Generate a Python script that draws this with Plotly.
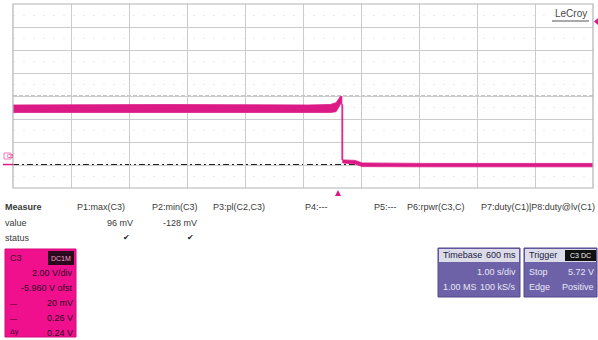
import plotly.graph_objects as go

# ---- acquisition settings (C3, 2.00 V/div, offset -5.960 V, 1.00 s/div) ----
volts_per_div = 2.0
offset_v = 5.96          # screen centre sits at +5.96 V
sec_per_div = 1.0
t_start = -5.6           # trigger (t = 0) is 5.6 divisions from the left edge
n_xdiv, n_ydiv = 10, 8

# ---- C3 trace envelope (noisy band), time in s, voltage in V ----
upper_t = [-5.6, -3.0, -0.5, -0.13, -0.03, 0.02, 0.05, 0.07, 0.07, 0.11, 0.30, 0.42, 1.5, 4.4]
upper_v = [5.18, 5.22, 5.18, 5.22, 5.38, 5.75, 5.96, 5.90, 0.42, 0.40, 0.36, 0.14, 0.10, 0.10]
lower_t = [4.4, 1.5, 0.42, 0.30, 0.11, 0.085, 0.085, 0.05, 0.02, -0.03, -0.13, -0.5, -3.0, -5.6]
lower_v = [-0.2, -0.2, -0.18, 0.04, 0.10, 0.14, 5.20, 5.30, 5.00, 4.60, 4.52, 4.52, 4.54, 4.52]

# ---- measurement table ----
meas_names = ["P1:max(C3)", "P2:min(C3)", "P3:pl(C2,C3)", "P4:---", "P5:---",
              "P6:rpwr(C3,C)", "P7:duty(C1)", "|P8:duty@lv(C1)"]
meas_values = ["96 mV", "-128 mV", "", "", "", "", "", ""]
meas_status = ["\u2714", "\u2714", "", "", "", "", "", ""]

# ---- channel / timebase / trigger descriptors ----
chan_rows = ["2.00 V/div", "-5.960 V ofst", "20 mV", "0.26 V", "0.24 V"]
timebase_rows = [("", "1.00 s/div"), ("1.00 MS", "100 kS/s")]
trigger_rows = [("Stop", "5.72 V"), ("Edge", "Positive")]

W, H = 598, 340
TRACE = "#dc1a86"
CHAN_BG = "#f0108e"
PURPLE = "#6d62a8"
FONT = "Liberation Sans, Arial, sans-serif"

# plot frame in pixels
X0, X1, Y0, Y1 = 13, 593, 4, 188


def px(x):
    return x / W


def py(y):
    return 1 - y / H


fig = go.Figure()

fig.add_trace(go.Scatter(
    x=upper_t + lower_t + [upper_t[0]],
    y=upper_v + lower_v + [upper_v[0]],
    mode="lines", fill="toself", fillcolor=TRACE,
    line=dict(color=TRACE, width=0.8), hoverinfo="skip", showlegend=False,
))

y_lo = offset_v - volts_per_div * n_ydiv / 2
y_hi = offset_v + volts_per_div * n_ydiv / 2

fig.update_layout(
    width=W, height=H, margin=dict(l=0, r=0, t=0, b=0),
    paper_bgcolor="white", plot_bgcolor="white",
    font=dict(family=FONT, size=9, color="#3a3a3a"),
    xaxis=dict(domain=[px(X0), px(X1)], range=[t_start, t_start + n_xdiv * sec_per_div],
               tick0=t_start, dtick=sec_per_div, showgrid=True, gridcolor="#cccccc",
               gridwidth=1, zeroline=False, showticklabels=False, ticks="",
               fixedrange=True),
    yaxis=dict(domain=[py(Y1), py(Y0)], range=[y_lo, y_hi],
               tick0=y_lo, dtick=volts_per_div, showgrid=True, gridcolor="#cccccc",
               gridwidth=1, zeroline=False, showticklabels=False, ticks="",
               fixedrange=True),
)

shapes = []
# centre axis (dashed) and ground reference (dash-dot)
shapes.append(dict(type="line", xref="paper", yref="y", x0=px(X0), x1=px(X1),
                   y0=offset_v, y1=offset_v, line=dict(color="#8c8c8c", width=1, dash="4px,2px"),
                   layer="below"))
shapes.append(dict(type="line", xref="paper", yref="y", x0=px(X0), x1=px(X1),
                   y0=0, y1=0, line=dict(color="#222222", width=1.3, dash="6px,3px,2px,3px"),
                   layer="below"))
# faint minor-division dots
for k in range(n_ydiv):
    ym = y_lo + volts_per_div * (k + 0.5)
    shapes.append(dict(type="line", xref="paper", yref="y", x0=px(X0), x1=px(X1),
                       y0=ym, y1=ym, line=dict(color="#ececec", width=1, dash="2px,8px"),
                       layer="below"))
# frame
shapes.append(dict(type="rect", xref="paper", yref="paper", x0=px(X0), x1=px(X1),
                   y0=py(Y1), y1=py(Y0), line=dict(color="#b4b4b4", width=1.2)))
# ground marker on the left
shapes.append(dict(type="line", xref="paper", yref="y", x0=px(3), x1=px(X0),
                   y0=0, y1=0, line=dict(color=TRACE, width=1.5)))
shapes.append(dict(type="rect", xref="paper", yref="paper", x0=px(4), x1=px(11),
                   y0=py(159), y1=py(153), line=dict(color="#f07ab8", width=1)))
# trigger position marker (below frame) and trigger level marker (right)
shapes.append(dict(type="path", xref="paper", yref="paper",
                   path=f"M {px(335)} {py(196)} L {px(341)} {py(196)} L {px(338)} {py(190)} Z",
                   fillcolor=TRACE, line=dict(width=0)))
shapes.append(dict(type="path", xref="paper", yref="paper",
                   path=f"M {px(598)} {py(18)} L {px(598)} {py(25)} L {px(594)} {py(21.5)} Z",
                   fillcolor=TRACE, line=dict(width=0)))
# LeCroy badge underline
shapes.append(dict(type="line", xref="paper", yref="paper", x0=px(552), x1=px(589),
                   y0=py(21), y1=py(21), line=dict(color="#555555", width=1)))

# channel box
shapes.append(dict(type="rect", xref="paper", yref="paper", x0=px(5), x1=px(76),
                   y0=py(337), y1=py(249), fillcolor=CHAN_BG, line=dict(color="#d8087c", width=1)))
shapes.append(dict(type="rect", xref="paper", yref="paper", x0=px(48), x1=px(74),
                   y0=py(265), y1=py(251), fillcolor="#2a0a1c", line=dict(width=0)))

# timebase and trigger boxes
for bx0, bx1 in [(438, 520), (524, 597)]:
    shapes.append(dict(type="rect", xref="paper", yref="paper", x0=px(bx0), x1=px(bx1),
                       y0=py(297), y1=py(248), fillcolor=PURPLE, line=dict(color="#55498f", width=1)))
    shapes.append(dict(type="rect", xref="paper", yref="paper", x0=px(bx0 + 1), x1=px(bx1 - 1),
                       y0=py(262), y1=py(249), fillcolor="#dcdbe8", line=dict(width=0)))
shapes.append(dict(type="rect", xref="paper", yref="paper", x0=px(565), x1=px(596),
                   y0=py(261), y1=py(250), fillcolor="#111111", line=dict(width=0)))
fig.update_layout(shapes=shapes)

ann = []


def text(x, y, s, anchor="left", size=9, color="#3a3a3a", bold=False):
    if bold:
        s = f"<b>{s}</b>"
    ann.append(dict(x=px(x), y=py(y), xref="paper", yref="paper", text=s, showarrow=False,
                    xanchor=anchor, yanchor="middle", font=dict(size=size, color=color, family=FONT)))


text(553, 14, "LeCroy", size=10, color="#4a4a4a")
text(5, 156, "C3", size=5, color=TRACE)

# measurement table
text(3, 207, "Measure", bold=True)
text(3, 223, "value")
text(3, 238, "status")
name_pos = [(127, "right"), (200, "right"), (267, "right"), (303, "left"), (372, "left"),
            (467, "right"), (531, "right"), (597, "right")]
val_right = [135, 199, None, None, None, None, None, None]
for i, name in enumerate(meas_names):
    xx, anc = name_pos[i]
    text(xx, 207, name, anchor=anc)
    if meas_values[i]:
        text(val_right[i], 223, meas_values[i], anchor="right")
    if meas_status[i]:
        text(val_right[i] - 3, 238, meas_status[i], anchor="right", size=8, color="#222222")

# channel box text
text(8, 258, "C3", color="#3a0a22")
text(61, 258, "DC1M", anchor="center", size=7, color="#f0a0c8")
for i, row in enumerate(chan_rows):
    text(75, 273 + i * 15, row, anchor="right", color="#2a0a1c")
text(8, 303, "\u2014", size=7, color="#3a0a22")
text(8, 318, "\u2014", size=7, color="#3a0a22")
text(8, 332, "\u0394y", size=7, color="#3a0a22")

# timebase box text
text(441, 255, "Timebase", color="#222244")
text(518, 255, "600 ms", anchor="right", color="#222244")
for i, (l, r) in enumerate(timebase_rows):
    if l:
        text(441, 272 + i * 15, l, color="#e8e6f6")
    text(518, 272 + i * 15, r, anchor="right", color="#e8e6f6")

# trigger box text
text(527, 255, "Trigger", color="#222244")
text(580, 255, "C3 DC", anchor="center", size=7, color="#f4f4f4")
for i, (l, r) in enumerate(trigger_rows):
    text(527, 272 + i * 15, l, color="#e8e6f6")
    text(596, 272 + i * 15, r, anchor="right", color="#e8e6f6")

fig.update_layout(annotations=ann)

fig.write_html("out.html")
